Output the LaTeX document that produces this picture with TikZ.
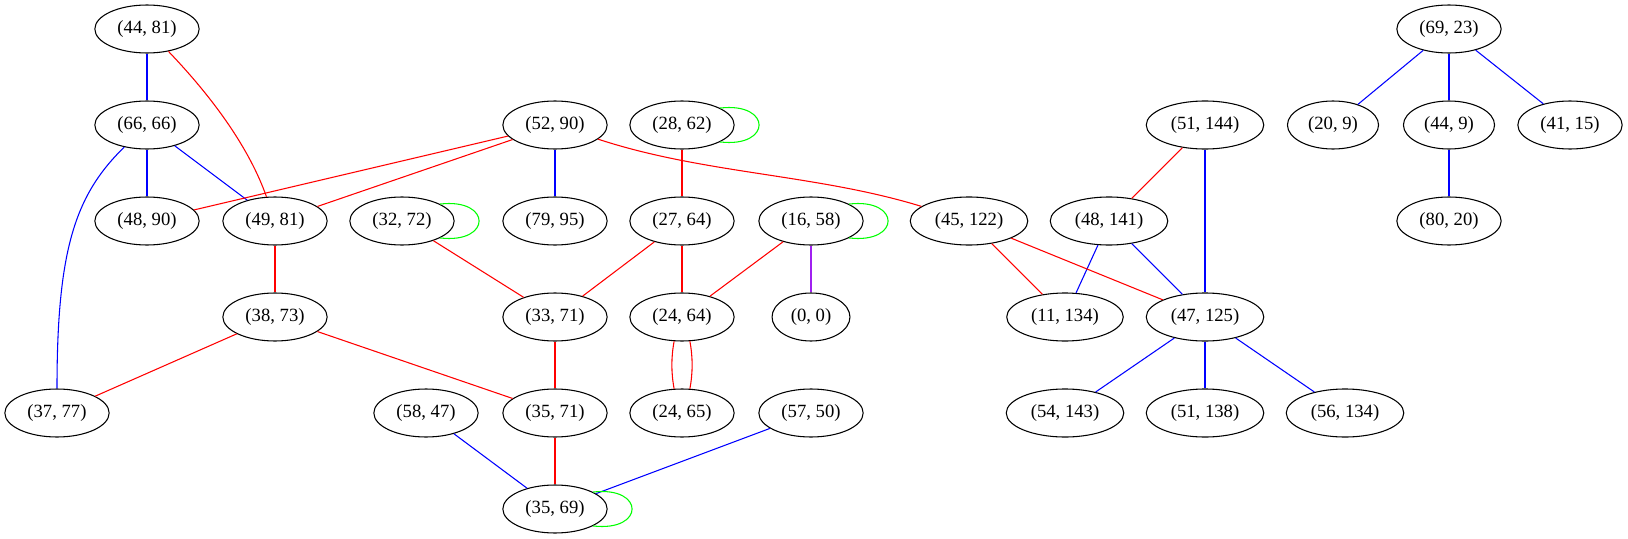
\documentclass[tikz,border=0pt]{standalone}
\usepackage{fontspec}
\setmainfont{Liberation Serif}
\usetikzlibrary{shapes,arrows,positioning,calc}
\definecolor{loopgreen}{RGB}{0,255,0}
\definecolor{edgepurple}{RGB}{160,32,240}

\begin{document}
\begin{tikzpicture}[x=0.75pt,y=-0.75pt,line width=0.8pt,
    pair/.style={ellipse,draw,inner xsep=5.5pt,inner ysep=2pt,minimum height=36pt,font=\fontsize{14}{16}\selectfont},
    bl/.style={blue},
    rd/.style={red},
    gn/.style={loopgreen}]
        \useasboundingbox (0,0) rectangle (1628,539);

        % Left part
        \node[pair] (n4481) at (147,29) {(44, 81)};
        \node[pair] (n6666) at (147,125) {(66, 66)};
        \node[pair] (n4890) at (147,221) {(48, 90)};
        \node[pair] (n4981) at (275,221) {(49, 81)};
        \node[pair] (n3873) at (275,317) {(38, 73)};
        \node[pair] (n3777) at (57,413) {(37, 77)};
        \node[pair] (n3272) at (402,221) {(32, 72)};
        \node[pair] (n5847) at (426,413) {(58, 47)};

        % Middle part
        \node[pair] (n5290) at (555,125) {(52, 90)};
        \node[pair] (n7995) at (555,221) {(79, 95)};
        \node[pair] (n3371) at (555,317) {(33, 71)};
        \node[pair] (n3571) at (555,413) {(35, 71)};
        \node[pair] (n3569) at (555,509) {(35, 69)};
        \node[pair] (n2862) at (682,125) {(28, 62)};
        \node[pair] (n2764) at (682,221) {(27, 64)};
        \node[pair] (n2464) at (682,317) {(24, 64)};
        \node[pair] (n2465) at (682,413) {(24, 65)};
        \node[pair] (n1658) at (811,221) {(16, 58)};
        \node[pair] (n00) at (811,317) {(0, 0)};
        \node[pair] (n5750) at (811,413) {(57, 50)};

        % Right part
        \node[pair] (n45122) at (969,221) {(45, 122)};
        \node[pair] (n48141) at (1109,221) {(48, 141)};
        \node[pair] (n51144) at (1205,125) {(51, 144)};
        \node[pair] (n11134) at (1065,317) {(11, 134)};
        \node[pair] (n47125) at (1205,317) {(47, 125)};
        \node[pair] (n54143) at (1065,413) {(54, 143)};
        \node[pair] (n51138) at (1205,413) {(51, 138)};
        \node[pair] (n56134) at (1345,413) {(56, 134)};
        \node[pair] (n6923) at (1449,29) {(69, 23)};
        \node[pair] (n209) at (1333,125) {(20, 9)};
        \node[pair] (n449) at (1449,125) {(44, 9)};
        \node[pair] (n4115) at (1570,125) {(41, 15)};
        \node[pair] (n8020) at (1449,221) {(80, 20)};

        % Blue edges
        \draw[bl] (n4481) -- (n6666);
        \draw[bl] (n6666) -- (n4890);
        \draw[bl] (n6666) -- (n4981);
        \draw[bl] (n6666) .. controls (75,195) and (57,250) .. (n3777);
        \draw[bl] (n5290) -- (n7995);
        \draw[bl] (n5847) -- (n3569);
        \draw[bl] (n5750) -- (n3569);
        \draw[bl] (n51144) -- (n47125);
        \draw[bl] (n48141) -- (n11134);
        \draw[bl] (n48141) -- (n47125);
        \draw[bl] (n47125) -- (n54143);
        \draw[bl] (n47125) -- (n51138);
        \draw[bl] (n47125) -- (n56134);
        \draw[bl] (n6923) -- (n209);
        \draw[bl] (n6923) -- (n449);
        \draw[bl] (n6923) -- (n4115);
        \draw[bl] (n449) -- (n8020);

        % Red edges
        \draw[rd] (n4481) .. controls (215,100) and (250,150) .. (n4981);
        \draw[rd] (n5290) -- (n4890);
        \draw[rd] (n5290) -- (n4981);
        \draw[rd] (n5290) .. controls (704,174) and (816,174) .. (n45122);
        \draw[rd] (n4981) -- (n3873);
        \draw[rd] (n3873) -- (n3777);
        \draw[rd] (n3873) -- (n3571);
        \draw[rd] (n3272) -- (n3371);
        \draw[rd] (n2862) -- (n2764);
        \draw[rd] (n2764) -- (n3371);
        \draw[rd] (n2764) -- (n2464);
        \draw[rd] (n1658) -- (n2464);
        \draw[rd] (n3371) -- (n3571);
        \draw[rd] (n3571) -- (n3569);
        \draw[rd] (n2464.-108) .. controls +(-3,16) and +(-3,-16) .. (n2465.108);
        \draw[rd] (n2464.-72) .. controls +(3,16) and +(3,-16) .. (n2465.72);
        \draw[rd] (n45122) -- (n11134);
        \draw[rd] (n45122) -- (n47125);
        \draw[rd] (n51144) -- (n48141);
        \draw[edgepurple] (n1658) -- (n00);

        % Self loops
        \foreach \n in {n2862,n3272,n1658,n3569}
            \draw[gn] (\n.24) .. controls +(52,-6) and +(52,6) .. (\n.-24);
    \end{tikzpicture}
\end{document}
